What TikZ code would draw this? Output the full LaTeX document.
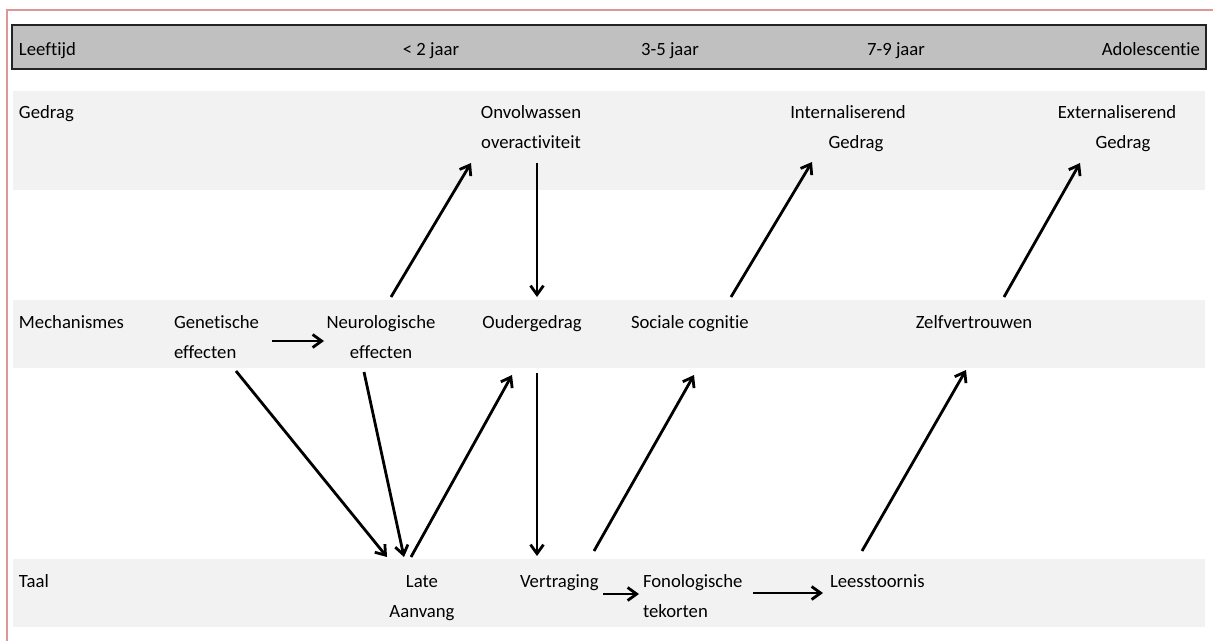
\documentclass[tikz,border=0pt]{standalone}
\usepackage{fontspec}
\setmainfont{Carlito}[Ligatures=NoCommon]
\usetikzlibrary{arrows.meta}
\definecolor{framepink}{RGB}{222,150,150}
\definecolor{headgray}{RGB}{192,192,192}
\definecolor{bandgray}{RGB}{242,242,242}
\definecolor{headline}{RGB}{35,35,35}
\begin{document}
\begin{tikzpicture}[x=1pt,y=-1pt,
  lbl/.style={inner sep=0pt, outer sep=0pt, font=\fontsize{18.7}{30}\selectfont, text=black},
  flow/.style={line width=2.8pt, -{Straight Barb[length=9pt,width=13pt,line width=2.8pt]}}]
\useasboundingbox (0,0) rectangle (1215,641);
% frame
\draw[framepink, line width=2pt] (7,641) -- (7,10) -- (1213,10);
% header bar and bands
\draw[fill=headgray, draw=headline, line width=2pt] (12,25) rectangle (1206,69);
\fill[bandgray] (13,91) rectangle (1205,190);
\fill[bandgray] (13,300) rectangle (1205,368);
\fill[bandgray] (13,559) rectangle (1205,627);
% header texts
\node[lbl, anchor=base west] (age) at (19,55) {Leeftijd};
\node[lbl, anchor=base] (a2) at (431,55) {< 2 jaar};
\node[lbl, anchor=base] (a35) at (670,55) {3-5 jaar};
\node[lbl, anchor=base] (a79) at (896,55) {7-9 jaar};
\node[lbl, anchor=base east] (adol) at (1200,55) {Adolescentie};
% Gedrag row
\node[lbl, anchor=base west] (gedrag) at (19,118) {Gedrag};
\node[lbl, anchor=base, align=center] (onv) at (531,148) {Onvolwassen\\overactiviteit};
\node[lbl, anchor=base, align=center] (int) at (848,148) {Internaliserend\\\hspace*{16pt}Gedrag};
\node[lbl, anchor=base, align=center] (ext) at (1117,148) {Externaliserend\\\hspace*{12pt}Gedrag};
% Mechanismes row
\node[lbl, anchor=base west] (mech) at (19,328) {Mechanismes};
\node[lbl, anchor=base west, align=left] (gen) at (174,358) {Genetische\\effecten};
\node[lbl, anchor=base, align=center] (neur) at (381,358) {Neurologische\\effecten};
\node[lbl, anchor=base] (oud) at (532,328) {Oudergedrag};
\node[lbl, anchor=base west] (soc) at (631,328) {Sociale cognitie};
\node[lbl, anchor=base] (zelf) at (974,328) {Zelfvertrouwen};
% Taal row
\node[lbl, anchor=base west] (taal) at (19,587) {Taal};
\node[lbl, anchor=base, align=center] (late) at (422,617) {Late\\Aanvang};
\node[lbl, anchor=base west] (vert) at (520,587) {Vertraging};
\node[lbl, anchor=base west, align=left] (fon) at (643,617) {Fonologische\\tekorten};
\node[lbl, anchor=base west] (lees) at (830,587) {Leesstoornis};
% connectors
\draw[flow] ([shift={(98,-17)}]gen.base west) -- ([shift={(-57,-17)}]neur.base);
\draw[flow] ([shift={(10,-61)}]neur.base) -- ([shift={(-60,15)}]onv.base);
\draw[flow] ([shift={(6,15)}]onv.base) -- ([shift={(5,-31)}]oud.base);
\draw[flow] ([shift={(100,-31)}]soc.base west) -- ([shift={(-36,14)}]int.base);
\draw[flow] ([shift={(30,-31)}]zelf.base) -- ([shift={(-37,15)}]ext.base);
\draw[flow] ([shift={(62,13)}]gen.base west) -- ([shift={(-35,-60)}]late.base);
\draw[flow] ([shift={(-17,14)}]neur.base) -- ([shift={(-18,-60)}]late.base);
\draw[flow] ([shift={(-11,-60)}]late.base) -- ([shift={(-20,47)}]oud.base);
\draw[flow] ([shift={(5,45)}]oud.base) -- ([shift={(17,-31)}]vert.base west);
\draw[flow] ([shift={(74,-36)}]vert.base west) -- ([shift={(63,47)}]soc.base west);
\draw[flow] ([shift={(83,7)}]vert.base west) -- ([shift={(-4,-23)}]fon.base west);
\draw[flow] ([shift={(110,-24)}]fon.base west) -- ([shift={(-7,6)}]lees.base west);
\draw[flow] ([shift={(32,-36)}]lees.base west) -- ([shift={(-8,42)}]zelf.base);
\end{tikzpicture}
\end{document}
